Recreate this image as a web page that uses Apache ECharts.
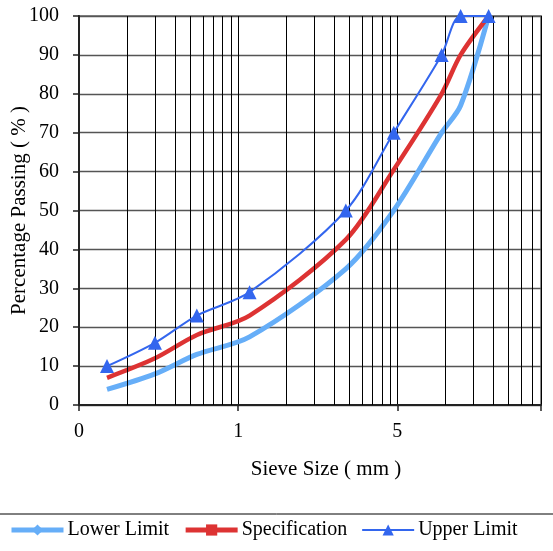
<!DOCTYPE html>
<html>
<head>
<meta charset="utf-8">
<style>
html,body{margin:0;padding:0;background:#fff;}
#chart{width:553px;height:551px;}
</style>
<script src="https://cdn.jsdelivr.net/npm/echarts@6/dist/echarts.min.js"></script>
</head>
<body>
<div id="chart"></div>
<script>
var sieveSizes = [0.15, 0.3, 0.55, 1.18, 4.75, 9.5, 19, 25, 37.5];
var lowerLimit = [4, 8, 13, 17.5, 35, 50, 70, 77, 100];
var specification = [7, 12, 18, 23, 42.5, 60.5, 80, 90, 100];
var upperLimit = [10, 16, 23, 29, 50, 70, 90, 100, 100];
var minorGrid = [0.2, 0.3, 0.4, 0.5, 0.6, 0.7, 0.8, 0.9, 2, 3, 4, 5, 6, 7, 8, 9, 20, 30, 40, 50, 60, 70];
var tickNames = {0.1: '0', 1: '1', 10: '5'};
var seriesNames = ['Lower Limit', 'Specification', 'Upper Limit'];
var colors = ['#66aef8', '#dd3333', '#3366ee'];
var widths = [5, 4.5, 2];

function pairs(ys) {
	return sieveSizes.map(function (x, i) { return [x, ys[i]]; });
}

var serif = 'Liberation Serif';
var chart = echarts.init(document.getElementById('chart'));
chart.setOption({
	animation: false,
	textStyle: {fontFamily: serif},
	grid: {
		left: 79, right: 12, top: 16, bottom: 146, containLabel: false, outerBoundsMode: 'none',
		show: true, borderColor: '#888', borderWidth: 2
	},
	legend: {
		data: seriesNames.map(function (n, i) {
			return {name: n, lineStyle: {width: i < 2 ? 5 : 2}};
		}),
		bottom: 6, left: 4, itemWidth: 52, itemHeight: 14, itemGap: 14,
		textStyle: {fontFamily: serif, fontSize: 20, color: '#000', padding: [0, 0, 0, -1]}
	},
	xAxis: {
		type: 'log', logBase: 10, min: 0.1, max: 80,
		name: 'Sieve Size ( mm )', nameLocation: 'middle', nameGap: 54, nameMoveOverlap: false,
		nameTextStyle: {fontFamily: serif, fontSize: 21, color: '#000', padding: [0, 0, 0, 32]},
		axisLine: {lineStyle: {color: '#222', width: 2}},
		axisTick: {show: true, length: 6, lineStyle: {color: '#222', width: 1.5}},
		axisLabel: {
			fontFamily: serif, fontSize: 20, color: '#000', margin: 17,
			formatter: function (v) { var k = Math.round(v * 1000) / 1000; return tickNames[k] || ''; }
		},
		splitLine: {show: true, lineStyle: {color: '#000', width: 1}}
	},
	yAxis: {
		type: 'value', min: 0, max: 100, interval: 10,
		name: 'Percentage Passing ( % )', nameLocation: 'middle', nameGap: 49, nameMoveOverlap: false,
		nameTextStyle: {fontFamily: serif, fontSize: 21, color: '#000'},
		axisLine: {show: true, lineStyle: {color: '#222', width: 2}},
		axisTick: {show: true, length: 6, lineStyle: {color: '#222', width: 1.5}},
		axisLabel: {fontFamily: serif, fontSize: 20, color: '#000', margin: 20},
		splitLine: {show: true, lineStyle: {color: '#555', width: 1.3}}
	},
	graphic: [{
		type: 'line', shape: {x1: 0, y1: 514, x2: 553, y2: 514},
		style: {stroke: '#000', lineWidth: 1}
	}],
	series: [
		{
			name: 'minor', type: 'line', data: [], z: 1, silent: true,
			markLine: {
				silent: true, symbol: ['none', 'none'], label: {show: false},
				lineStyle: {color: '#000', width: 1, type: 'solid'},
				data: minorGrid.map(function (v) { return {xAxis: v}; })
			}
		},
		{
			name: seriesNames[0], type: 'line', data: pairs(lowerLimit), smooth: 0.3,
			symbol: 'diamond', symbolSize: 10, showSymbol: false, z: 3,
			itemStyle: {color: colors[0]}, lineStyle: {color: colors[0], width: widths[0]}
		},
		{
			name: seriesNames[1], type: 'line', data: pairs(specification), smooth: 0.3,
			symbol: 'rect', symbolSize: 12, showSymbol: false, z: 4,
			itemStyle: {color: colors[1]}, lineStyle: {color: colors[1], width: widths[1]}
		},
		{
			name: seriesNames[2], type: 'line', data: pairs(upperLimit), smooth: 0.3,
			symbol: 'triangle', symbolSize: 14, z: 5,
			itemStyle: {color: colors[2]}, lineStyle: {color: colors[2], width: widths[2]}
		}
	]
});
</script>
</body>
</html>
